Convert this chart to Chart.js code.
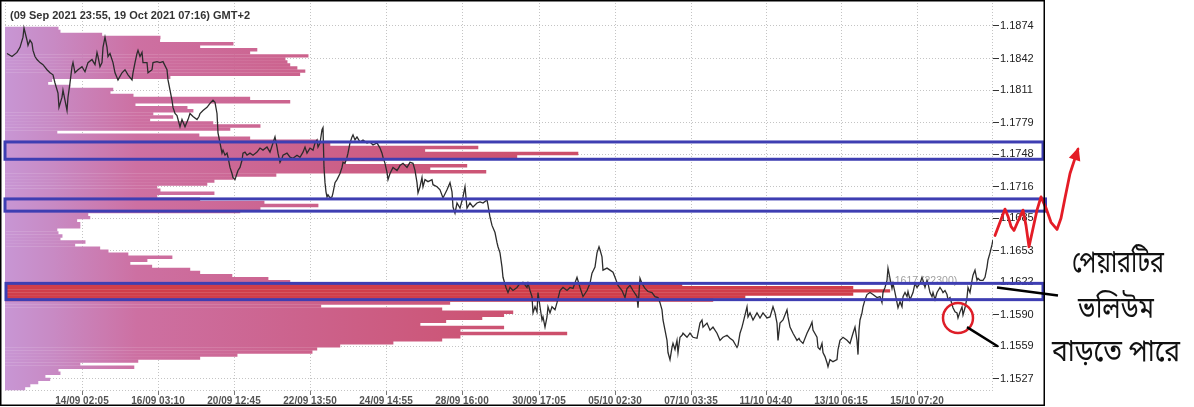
<!DOCTYPE html>
<html>
<head>
<meta charset="utf-8">
<title>EURUSD volume profile</title>
<script src="https://cdn.jsdelivr.net/npm/chart.js@4.4.1/dist/chart.umd.min.js"></script>
<style>
  html, body { margin: 0; padding: 0; background: #fff; }
  #wrap { width: 1194px; height: 407px; }
</style>
</head>
<body>
<div id="wrap"><canvas id="chart" width="1194" height="407"></canvas></div>
<script>
// x axis: bar number, labelled at these bars
const timeLabels = ["14/09 02:05", "16/09 03:10", "20/09 12:45", "22/09 13:50", "24/09 14:55", "28/09 16:00",
  "30/09 17:05", "05/10 02:30", "07/10 03:35", "11/10 04:40", "13/10 06:15", "15/10 07:20"];
const timeTicks = [77, 153, 229, 305, 381, 457, 534, 610, 686, 761, 836, 912];
const priceTicks = [1.1874, 1.1842, 1.1811, 1.1779, 1.1748, 1.1716, 1.1685, 1.1653, 1.1622, 1.1590, 1.1559, 1.1527];

// price line (bar, close)
const bars = [2,7,12,15,18,19,22,23,25,27,28,30,32,35,38,42,45,48,50,53,54,57,58,60,62,63,65,67,68,70,73,77,80,83,87,90,92,93,95,97,98,100,102,103,105,108,110,113,117,120,123,127,128,130,132,133,135,137,138,142,143,147,148,152,155,158,162,163,165,167,168,170,172,175,177,180,183,185,188,192,194,
  195,198,202,205,208,210,212,213,215,217,218,220,222,223,225,227,228,230,232,233,235,237,238,240,242,245,248,252,255,258,262,265,268,270,272,273,275,277,278,282,285,288,292,295,298,300,302,305,308,310,312,313,315,317,318,319,320,321,322,323,325,327,328,330,332,335,337,338,340,342,343,345,347,348,350,352,355,358,362,365,368,372,375,377,378,380,382,383,385,388,392,394,
  395,398,402,405,408,410,412,413,415,417,418,420,423,427,428,432,435,438,442,445,447,448,450,452,455,458,460,462,465,468,472,475,478,482,483,485,487,490,492,493,495,497,498,501,503,505,508,512,515,518,522,523,525,527,528,530,532,533,535,537,538,540,542,543,545,547,550,552,555,558,562,565,568,572,575,578,582,585,587,590,592,594,
  595,597,598,602,605,608,610,613,617,620,622,625,628,632,633,635,637,640,643,647,650,653,655,657,658,660,662,663,665,667,668,670,672,673,675,677,678,682,685,688,692,695,697,698,702,705,708,712,715,718,722,725,728,732,733,735,737,738,742,743,745,748,752,755,758,762,765,768,770,772,773,775,778,782,783,785,788,792,794,
  795,798,802,805,807,808,812,813,815,817,818,820,822,823,825,828,832,833,835,838,842,845,848,850,852,853,854,855,857,858,860,862,865,868,872,875,877,878,880,882,883,885,887,888,890,892,893,895,897,898,900,902,903,905,908,910,912,915,917,918,920,922,923,925,927,928,930,932,935,937,938,940,942,943,945,948,950,952,953,955,957,958,960,962,963,965,967,968,970,972,973,975,977,978,980,982,983,985,987,988];
const closes = [1.1847,1.1844,1.1848,1.1853,1.1863,1.1872,1.1860,1.1855,1.1860,1.1857,1.1850,1.1844,1.1841,1.1838,1.1836,1.1831,1.1828,1.1826,1.1818,1.1808,1.1794,1.1804,1.1811,1.1801,1.1791,1.1804,1.1818,1.1834,1.1838,1.1828,1.1831,1.1834,1.1829,1.1838,1.1841,1.1836,1.1848,1.1844,1.1834,1.1838,1.1853,1.1863,1.1853,1.1844,1.1847,1.1838,1.1828,1.1821,1.1828,1.1831,1.1826,1.1821,1.1828,1.1838,1.1847,1.1850,1.1844,1.1848,1.1838,1.1838,1.1828,1.1831,1.1838,1.1839,1.1838,1.1839,1.1831,1.1821,1.1811,1.1801,1.1794,1.1788,1.1786,1.1775,1.1782,1.1775,1.1782,1.1788,1.1785,1.1782,1.1785,
  1.1788,1.1791,1.1794,1.1798,1.1801,1.1799,1.1788,1.1769,1.1759,1.1749,1.1752,1.1747,1.1749,1.1745,1.1735,1.1729,1.1725,1.1723,1.1729,1.1732,1.1735,1.1742,1.1749,1.1750,1.1747,1.1749,1.1747,1.1750,1.1754,1.1752,1.1755,1.1750,1.1759,1.1765,1.1755,1.1749,1.1740,1.1744,1.1747,1.1749,1.1745,1.1744,1.1747,1.1745,1.1750,1.1755,1.1749,1.1754,1.1752,1.1759,1.1762,1.1755,1.1759,1.1772,1.1774,1.1735,1.1720,1.1711,1.1706,1.1708,1.1705,1.1706,1.1710,1.1720,1.1723,1.1729,1.1735,1.1740,1.1739,1.1745,1.1749,1.1759,1.1765,1.1767,1.1762,1.1765,1.1760,1.1762,1.1759,1.1760,1.1757,1.1759,1.1754,1.1749,1.1745,1.1739,1.1730,1.1723,1.1729,1.1735,1.1732,1.1735,
  1.1737,1.1739,1.1735,1.1740,1.1739,1.1732,1.1720,1.1710,1.1716,1.1725,1.1716,1.1723,1.1721,1.1723,1.1718,1.1716,1.1713,1.1705,1.1713,1.1720,1.1711,1.1696,1.1690,1.1700,1.1695,1.1706,1.1716,1.1695,1.1700,1.1696,1.1700,1.1701,1.1700,1.1703,1.1698,1.1686,1.1678,1.1671,1.1661,1.1657,1.1651,1.1637,1.1627,1.1617,1.1612,1.1617,1.1614,1.1617,1.1621,1.1622,1.1617,1.1621,1.1614,1.1608,1.1592,1.1598,1.1593,1.1612,1.1598,1.1585,1.1588,1.1578,1.1588,1.1598,1.1592,1.1598,1.1595,1.1602,1.1614,1.1617,1.1614,1.1617,1.1616,1.1627,1.1617,1.1608,1.1614,1.1621,1.1631,1.1637,1.1651,1.1657,
  1.1654,1.1647,1.1634,1.1636,1.1634,1.1632,1.1627,1.1619,1.1614,1.1607,1.1616,1.1619,1.1614,1.1608,1.1597,1.1626,1.1621,1.1616,1.1613,1.1612,1.1608,1.1607,1.1602,1.1595,1.1585,1.1575,1.1565,1.1553,1.1546,1.1558,1.1562,1.1556,1.1565,1.1553,1.1568,1.1570,1.1572,1.1568,1.1572,1.1568,1.1567,1.1582,1.1585,1.1578,1.1582,1.1575,1.1578,1.1572,1.1565,1.1568,1.1570,1.1567,1.1565,1.1558,1.1560,1.1572,1.1578,1.1582,1.1598,1.1588,1.1592,1.1585,1.1592,1.1587,1.1592,1.1587,1.1588,1.1598,1.1592,1.1582,1.1565,1.1582,1.1585,1.1595,1.1588,1.1578,1.1572,1.1565,1.1567,
  1.1565,1.1562,1.1572,1.1578,1.1583,1.1575,1.1568,1.1558,1.1556,1.1562,1.1553,1.1549,1.1543,1.1539,1.1546,1.1544,1.1546,1.1556,1.1565,1.1568,1.1565,1.1562,1.1572,1.1578,1.1565,1.1551,1.1575,1.1585,1.1592,1.1598,1.1605,1.1610,1.1612,1.1610,1.1607,1.1608,1.1602,1.1612,1.1617,1.1624,1.1636,1.1626,1.1616,1.1621,1.1612,1.1602,1.1597,1.1603,1.1598,1.1608,1.1612,1.1608,1.1613,1.1605,1.1612,1.1621,1.1617,1.1621,1.1627,1.1624,1.1617,1.1624,1.1621,1.1612,1.1608,1.1612,1.1605,1.1612,1.1617,1.1614,1.1612,1.1614,1.1610,1.1605,1.1607,1.1597,1.1593,1.1592,1.1587,1.1593,1.1598,1.1590,1.1597,1.1607,1.1617,1.1612,1.1624,1.1629,1.1634,1.1624,1.1626,1.1624,1.1624,1.1624,1.1627,1.1637,1.1644,1.1651,1.1659,1.1664];

// volume profile: price level -> traded volume
const profileLevels = [1.1873,1.1870,1.1867,1.1864,1.1861,1.1858,1.1855,1.1852,1.1849,1.1846,1.1843,1.1840,1.1837,1.1834,1.1831,1.1828,1.1825,1.1822,1.1819,1.1816,
  1.1813,1.1810,1.1807,1.1804,1.1801,1.1798,1.1795,1.1792,1.1789,1.1786,1.1783,1.1780,1.1777,1.1774,1.1771,1.1768,1.1765,1.1762,1.1759,1.1756,
  1.1753,1.1750,1.1747,1.1744,1.1741,1.1738,1.1735,1.1732,1.1729,1.1726,1.1723,1.1720,1.1717,1.1714,1.1711,1.1708,1.1705,1.1702,1.1699,1.1696,
  1.1693,1.1690,1.1687,1.1684,1.1681,1.1678,1.1675,1.1672,1.1669,1.1666,1.1663,1.1660,1.1657,1.1654,1.1651,1.1648,1.1645,1.1642,1.1639,1.1636,
  1.1633,1.1630,1.1627,1.1624,1.1621,1.1618,1.1615,1.1612,1.1609,1.1606,1.1603,1.1600,1.1597,1.1594,1.1591,1.1588,1.1585,1.1582,1.1579,1.1576,
  1.1573,1.1570,1.1567,1.1564,1.1561,1.1558,1.1555,1.1552,1.1549,1.1546,1.1543,1.1540,1.1537,1.1534,1.1531,1.1528,1.1525,1.1522,1.1519];
const profileVolumes = [1340,1390,2440,3910,3900,5750,4910,6350,6170,7640,7060,7110,7180,7360,7560,7430,4160,1180,1080,1640,
  2720,2650,3230,6170,7180,3280,4590,4740,3730,4230,3650,5240,6430,5670,1310,4890,6170,7890,8190,11920,
  10580,14440,12900,9530,8570,11640,10710,12120,6830,5750,5270,5090,3830,3910,5270,3830,4910,6530,7890,6430,
  5920,2090,2140,1810,1890,1890,1310,1340,1440,1390,2020,1760,2390,2600,3100,4210,3580,3150,3700,4660,
  4910,5720,6630,7180,17060,21370,22300,21370,18650,17840,11210,7960,11010,12800,12570,12020,11110,10460,12570,11470,
  14160,11470,11010,9780,8440,7860,7740,5850,4910,3350,1890,3250,1340,1390,1010,1130,830,630,500];
const pocPrice = 1.1617;
const pocVolume = 22300;

// marked zones (top, bottom price) and their bar extent
const zoneTop = [1.1760, 1.1704, 1.1621];
const zoneBottom = [1.1743, 1.1692, 1.1605];
const zoneFrom = [0, 0, 1];
const zoneTo = [1038, 1040.5, 1038];

// hand-drawn forecast after the last bar
const forecastBars = [990, 995, 1000, 1003, 1006, 1009, 1013, 1018, 1021, 1024, 1028, 1032, 1036, 1041, 1046, 1052, 1056, 1060, 1065, 1073];
const forecastPrices = [1.1668, 1.1681, 1.1694, 1.1687, 1.1677, 1.1673, 1.1682, 1.1693, 1.1678, 1.1657, 1.1675, 1.1693, 1.1706, 1.1695, 1.1681, 1.1674, 1.1685, 1.1705, 1.1729, 1.1753];

const FONT = '"Liberation Sans", Arial, sans-serif';
const BENGALI = '"Noto Sans Bengali", "Noto Serif Bengali", "Lohit Bengali", "FreeSans", "FreeSerif", sans-serif';

let grad = null;
function profileColor(c) {
  const area = c.chart.chartArea;
  if (!area) return "rgb(205,110,160)";
  const v = c.raw ? c.raw.x : 0;
  if (v >= 15000) return "rgb(208,62,74)";
  if (!grad) {
    grad = c.chart.ctx.createLinearGradient(area.left, 0, area.left + 600, 0);
    grad.addColorStop(0, "rgb(200,150,212)");
    grad.addColorStop(0.08, "rgb(200,138,196)");
    grad.addColorStop(0.22, "rgb(205,112,162)");
    grad.addColorStop(0.5, "rgb(204,98,140)");
    grad.addColorStop(0.8, "rgb(204,84,116)");
    grad.addColorStop(1, "rgb(205,75,100)");
  }
  return grad;
}

const overlay = {
  id: "overlay",
  beforeDraw(chart) {
    const ctx = chart.ctx;
    ctx.save();
    ctx.fillStyle = "#fff";
    ctx.fillRect(0, 0, chart.width, chart.height);
    ctx.restore();
  },
  beforeDatasetsDraw(chart) {
    const { ctx, chartArea: a } = chart;
    ctx.save();
    ctx.strokeStyle = "#c4c4c4";
    ctx.lineWidth = 1;
    ctx.setLineDash([1, 2]);
    ctx.beginPath();
    ctx.moveTo(a.left + 0.5, a.top); ctx.lineTo(a.left + 0.5, a.bottom);
    ctx.moveTo(a.right - 0.5, a.top); ctx.lineTo(a.right - 0.5, a.bottom);
    ctx.moveTo(a.left, a.bottom - 0.5); ctx.lineTo(a.right, a.bottom - 0.5);
    ctx.stroke();
    ctx.restore();
  },
  afterDatasetsDraw(chart) {
    const { ctx } = chart;
    const x = chart.scales.x, y = chart.scales.y;
    ctx.save();

    // point of control label
    ctx.font = "10.5px " + FONT;
    ctx.fillStyle = "rgba(95,95,95,0.6)";
    ctx.textBaseline = "middle";
    ctx.fillText(pocPrice.toFixed(4) + " (" + pocVolume + ")", x.getPixelForValue(881), y.getPixelForValue(1.1623));

    // zones
    ctx.strokeStyle = "rgb(62,62,178)";
    ctx.lineWidth = 3;
    zoneTop.forEach((t, i) => {
      const l = x.getPixelForValue(zoneFrom[i]), r = x.getPixelForValue(zoneTo[i]);
      const yt = y.getPixelForValue(t), yb = y.getPixelForValue(zoneBottom[i]);
      ctx.strokeRect(l, yt, r - l, yb - yt);
    });

    // red circle
    ctx.strokeStyle = "rgb(222,30,40)";
    ctx.lineWidth = 2.5;
    ctx.beginPath();
    ctx.arc(x.getPixelForValue(953), y.getPixelForValue(1.1587), 15, 0, Math.PI * 2);
    ctx.stroke();

    // pointer lines
    ctx.strokeStyle = "#000";
    ctx.lineWidth = 2.5;
    ctx.beginPath();
    ctx.moveTo(x.getPixelForValue(962), y.getPixelForValue(1.1578));
    ctx.lineTo(x.getPixelForValue(993), y.getPixelForValue(1.1559));
    ctx.moveTo(x.getPixelForValue(992), y.getPixelForValue(1.1617));
    ctx.lineTo(x.getPixelForValue(1053), y.getPixelForValue(1.1609));
    ctx.stroke();

    // forecast arrow
    const pts = forecastBars.map((b, i) => [x.getPixelForValue(b), y.getPixelForValue(forecastPrices[i])]);
    ctx.strokeStyle = "rgb(228,28,38)";
    ctx.fillStyle = "rgb(228,28,38)";
    ctx.lineWidth = 2.8;
    ctx.lineJoin = "round";
    ctx.lineCap = "round";
    ctx.beginPath();
    pts.forEach((p, i) => (i ? ctx.lineTo(p[0], p[1]) : ctx.moveTo(p[0], p[1])));
    ctx.stroke();
    const tip = pts[pts.length - 1], prev = pts[pts.length - 2];
    const dx = tip[0] - prev[0], dy = tip[1] - prev[1], len = Math.hypot(dx, dy);
    const ux = dx / len, uy = dy / len;
    const tx = tip[0] + ux * 2, ty = tip[1] + uy * 2;
    const bx = tx - ux * 13, by = ty - uy * 13;
    ctx.beginPath();
    ctx.moveTo(tx, ty);
    ctx.lineTo(bx - uy * 6, by + ux * 6);
    ctx.lineTo(bx + uy * 6, by - ux * 6);
    ctx.closePath();
    ctx.fill();
    ctx.restore();
  },
  afterDraw(chart) {
    const ctx = chart.ctx;
    ctx.save();
    // frame
    ctx.strokeStyle = "#000";
    ctx.lineWidth = 1.5;
    ctx.strokeRect(0.75, 0.75, 1043.5, 404.5);

    // title
    ctx.font = "bold 11px " + FONT;
    ctx.fillStyle = "#333";
    ctx.textBaseline = "middle";
    ctx.fillText("(09 Sep 2021 23:55, 19 Oct 2021 07:16) GMT+2", 10, 16);

    // note
    const captions = [["পেয়ারটির", 1118, 266, 92], ["ভলিউম", 1116, 312, 76], ["বাড়তে পারে", 1116, 355, 128]];
    ctx.fillStyle = "#111";
    ctx.textAlign = "center";
    ctx.font = "30px " + BENGALI;
    captions.forEach(([t, cx, cy, w]) => {
      const m = ctx.measureText(t).width || w;
      ctx.save();
      ctx.translate(cx, cy);
      ctx.scale(w / m, 1);
      ctx.fillText(t, 0, 0);
      ctx.restore();
    });
    ctx.restore();
  }
};

const ctx = document.getElementById("chart").getContext("2d");
new Chart(ctx, {
  type: "line",
  data: {
    datasets: [
      {
        type: "line",
        label: "EURUSD",
        data: bars.map((b, i) => ({ x: b, y: closes[i] })),
        xAxisID: "x",
        yAxisID: "y",
        borderColor: "#2c2c2c",
        borderWidth: 1.3,
        pointRadius: 0,
        tension: 0,
        order: 0,
      },
      {
        type: "bar",
        label: "Volume",
        indexAxis: "y",
        data: profileLevels.map((p, i) => ({ x: profileVolumes[i], y: p })),
        xAxisID: "xv",
        yAxisID: "y",
        backgroundColor: profileColor,
        borderWidth: 0,
        barThickness: 2.8,
        order: 1,
      },
    ],
  },
  options: {
    responsive: false,
    animation: false,
    devicePixelRatio: 1,
    events: [],
    layout: { padding: { left: 5, top: 3, right: 150, bottom: 0 } },
    plugins: {
      legend: { display: false },
      tooltip: { enabled: false },
    },
    scales: {
      x: {
        type: "linear",
        position: "bottom",
        min: 0,
        max: 988,
        offset: false,
        afterBuildTicks: (s) => { s.ticks = timeTicks.map((v) => ({ value: v })); },
        afterFit: (s) => { s.height = 16; },
        ticks: {
          autoSkip: false,
          maxRotation: 0,
          padding: 0,
          color: "#555",
          font: { family: FONT, size: 10, weight: "bold" },
          callback: (v, i) => timeLabels[i],
        },
        grid: { offset: false, color: "#c4c4c4", tickLength: 4, tickColor: "#777", tickBorderDash: [] },
        border: { display: false, dash: [1, 2] },
      },
      xv: { type: "linear", display: false, min: 0, max: 24900, offset: false, beginAtZero: true },
      y: {
        type: "linear",
        position: "right",
        min: 1.15152,
        max: 1.18966,
        offset: false,
        afterBuildTicks: (s) => { s.ticks = priceTicks.map((v) => ({ value: v })); },
        afterFit: (s) => { s.width = 51; s.paddingTop = 0; s.paddingBottom = 0; },
        ticks: {
          padding: 1,
          color: "#222",
          font: { family: FONT, size: 11 },
          callback: (v) => v.toFixed(4),
        },
        grid: { offset: false, color: "#c4c4c4", tickLength: 6, tickColor: "#333", tickBorderDash: [] },
        border: { display: false, dash: [1, 2] },
      },
    },
  },
  plugins: [overlay],
});
</script>
</body>
</html>
